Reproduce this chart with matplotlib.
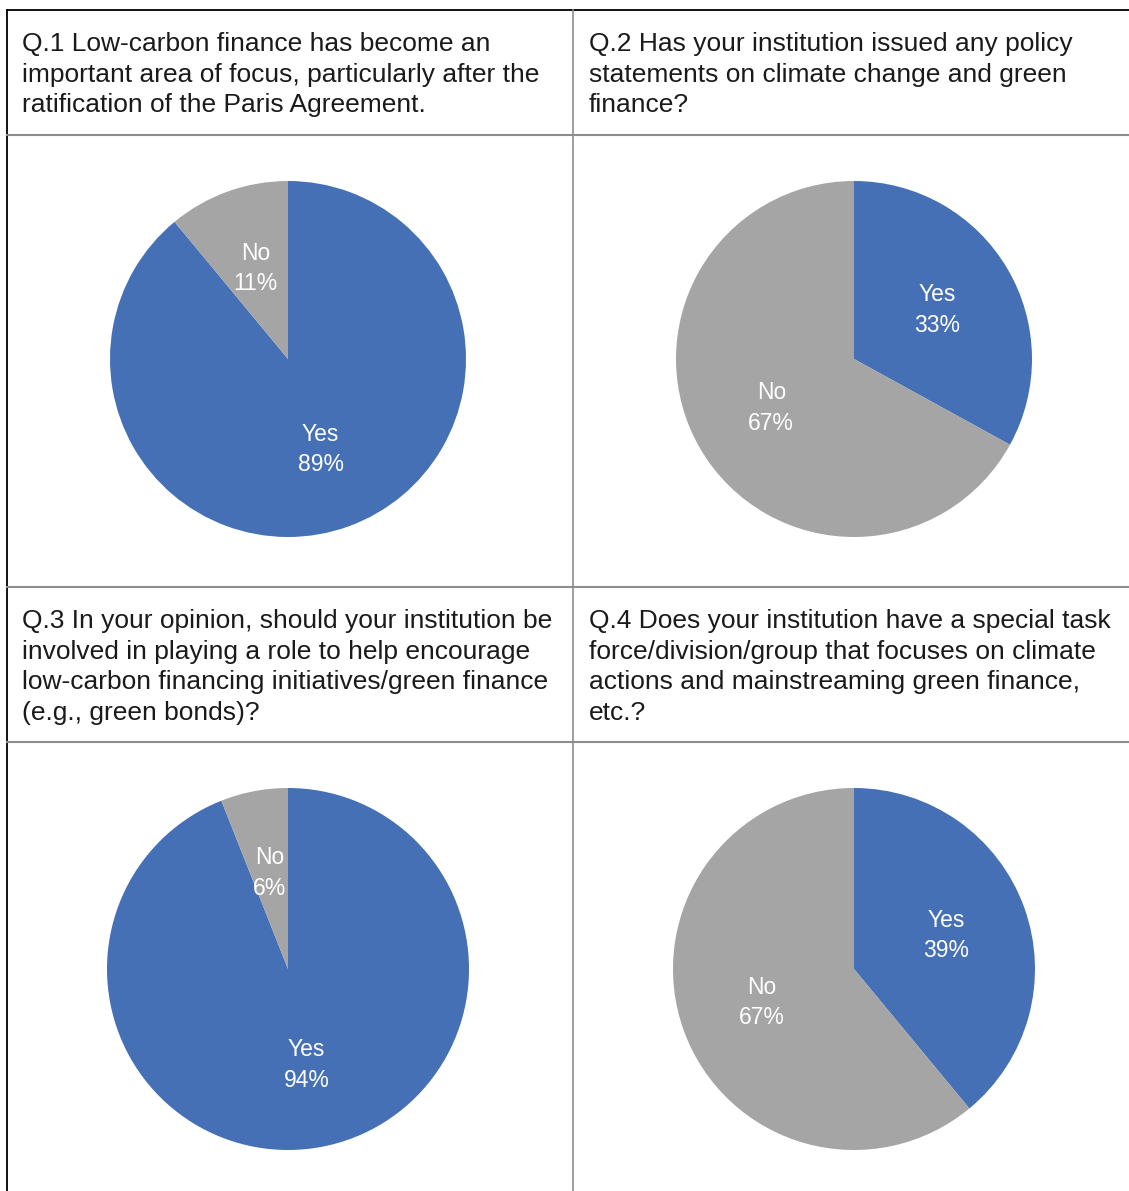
import matplotlib.pyplot as plt

plt.rcParams['font.family'] = ['Liberation Sans', 'DejaVu Sans']

W, H = 1129, 1191

# Données des quatre questions
q1_title = ["Q.1 Low-carbon finance has become an",
            "important area of focus, particularly after the",
            "ratification of the Paris Agreement."]
q2_title = ["Q.2 Has your institution issued any policy",
            "statements on climate change and green",
            "finance?"]
q3_title = ["Q.3 In your opinion, should your institution be",
            "involved in playing a role to help encourage",
            "low-carbon financing initiatives/green finance",
            "(e.g., green bonds)?"]
q4_title = ["Q.4 Does your institution have a special task",
            "force/division/group that focuses on climate",
            "actions and mainstreaming green finance,",
            "etc.?"]

categories = ["Yes", "No"]
q1_values = [89, 11]
q2_values = [33, 67]
q3_values = [94, 6]
q4_values = [39, 61]
q1_pct = ["89%", "11%"]
q2_pct = ["33%", "67%"]
q3_pct = ["94%", "6%"]
q4_pct = ["39%", "67%"]  # tel quel dans l'original

colors = ["#4670B5", "#A5A5A5"]

fig = plt.figure(figsize=(W / 100, H / 100), dpi=100)
bg = fig.add_axes([0, 0, 1, 1])
bg.set_xlim(0, W)
bg.set_ylim(H, 0)
bg.axis("off")

# Grille du tableau
bg.plot([7, 7], [10, H], color="black", lw=1.3)
bg.plot([7, W], [10, 10], color="black", lw=1.3)
for y in [135, 587, 742]:
    bg.plot([7, W], [y, y], color="#8C8C8C", lw=1.5)
bg.plot([573, 573], [10, H], color="#8C8C8C", lw=1.2)

panels = [
    (q1_title, q1_values, q1_pct, 22, 44, 288, 359, 178),
    (q2_title, q2_values, q2_pct, 589, 44, 854, 359, 178),
    (q3_title, q3_values, q3_pct, 22, 621, 288, 969, 181),
    (q4_title, q4_values, q4_pct, 589, 621, 854, 969, 181),
]

for title, values, pct, tx, ty, cx, cy, r in panels:
    # Titre de la question, ligne par ligne
    for i, line in enumerate(title):
        bg.text(tx, ty + i * 30.7, line, fontsize=19, color="#1a1a1a",
                ha="left", va="center")

    ax = fig.add_axes([(cx - r) / W, 1 - (cy + r) / H, 2 * r / W, 2 * r / H])
    labels = [f"{c}\n{p}" for c, p in zip(categories, pct)]
    ax.pie(values, labels=labels, colors=colors, startangle=90, counterclock=False,
           labeldistance=0.54, radius=1,
           textprops=dict(color="white", fontsize=16.5, ha="center", va="center",
                          linespacing=1.4))
    ax.set_xlim(-1, 1)
    ax.set_ylim(-1, 1)
    ax.set_aspect("auto")
    ax.axis("off")

plt.savefig("out.png", dpi=100)
